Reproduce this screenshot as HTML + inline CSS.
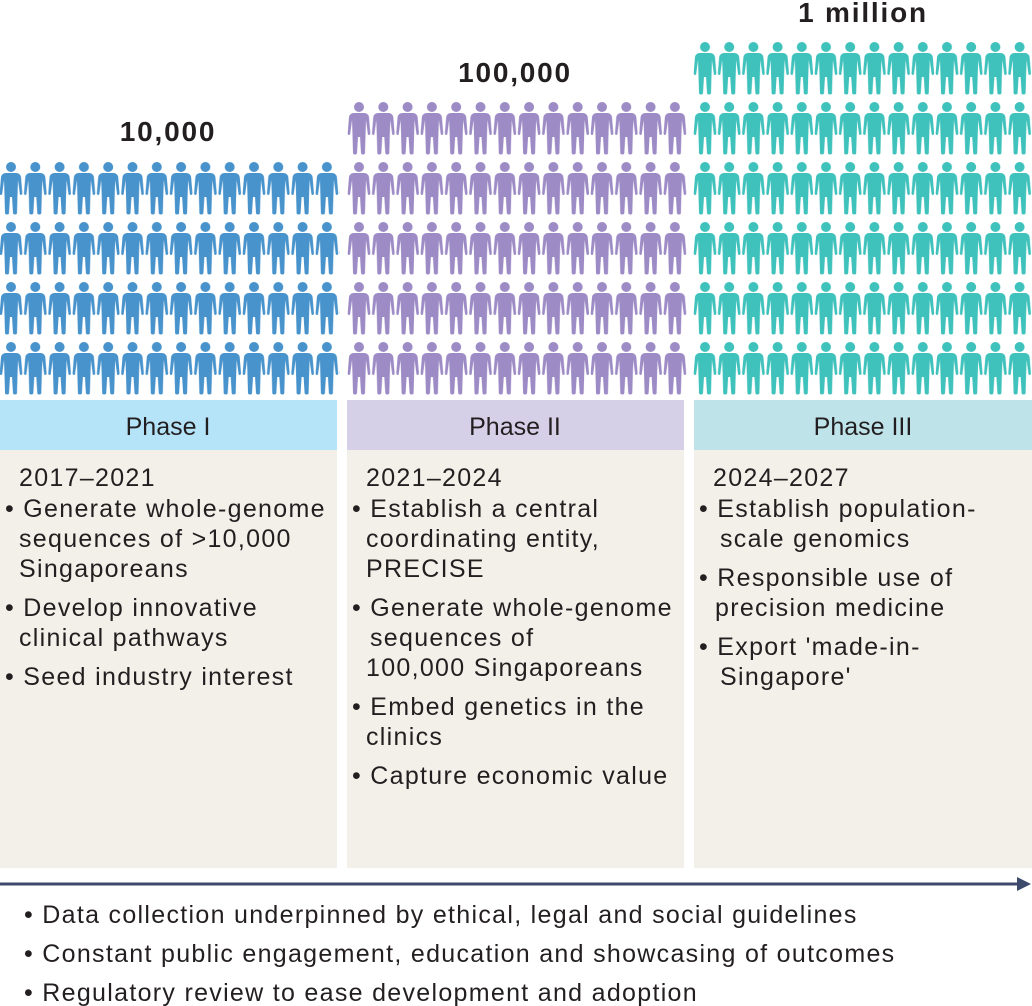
<!DOCTYPE html>
<html><head><meta charset="utf-8"><style>
body{margin:0;background:#fff;}
svg{display:block;font-family:"Liberation Sans",sans-serif;}
</style></head><body>
<svg width="1032" height="1006" viewBox="0 0 1032 1006" xmlns="http://www.w3.org/2000/svg">
<defs>
<g id="p"><circle cx="12" cy="5" r="5"/><path d="M7,11 H17 Q21,11 22,15 L23.3,31 Q23.3,33 22,33 Q20.7,33 20.7,31 L19,18 L18.5,33 L18,51 Q18,52.5 16,52.5 Q14,52.5 14,51 L13,35 H11 L10,51 Q10,52.5 8,52.5 Q6,52.5 6,51 L5.5,33 L5,18 L3.3,31 Q3.3,33 2,33 Q0.7,33 0.7,31 L2,15 Q3,11 7,11 Z"/></g>
<pattern id="pb" patternUnits="userSpaceOnUse" x="-1" y="162" width="24.3" height="60"><use href="#p" fill="#4893cc"/></pattern>
<pattern id="pp" patternUnits="userSpaceOnUse" x="347" y="102" width="24.3" height="60"><use href="#p" fill="#9d8bc6"/></pattern>
<pattern id="pt" patternUnits="userSpaceOnUse" x="693" y="42" width="24.2" height="60"><use href="#p" fill="#40c2bc"/></pattern>
</defs>
<rect x="0" y="160" width="340" height="236" fill="url(#pb)"/>
<rect x="347" y="100" width="340" height="296" fill="url(#pp)"/>
<rect x="693" y="40" width="339" height="356" fill="url(#pt)"/>
<g font-weight="bold" font-size="28" fill="#231f20" text-anchor="middle" letter-spacing="1.8">
<text x="168" y="141">10,000</text>
<text x="515" y="82">100,000</text>
<text x="863" y="22">1 million</text>
</g>
<rect x="0" y="400" width="337" height="50" fill="#b5e3f8"/>
<rect x="347" y="400" width="337" height="50" fill="#d5d0e8"/>
<rect x="694" y="400" width="338" height="50" fill="#bee4ea"/>
<rect x="0" y="450" width="337" height="418" fill="#f3f0ea"/>
<rect x="347" y="450" width="337" height="418" fill="#f3f0ea"/>
<rect x="694" y="450" width="338" height="418" fill="#f3f0ea"/>
<g font-size="25" fill="#231f20" text-anchor="middle">
<text x="168" y="435">Phase I</text>
<text x="515" y="435">Phase II</text>
<text x="863" y="435">Phase III</text>
</g>
<g font-size="25" fill="#231f20" letter-spacing="1.3">
<text x="19" y="486">2017–2021</text>
<text x="5" y="517">• Generate whole-genome</text>
<text x="19" y="547">sequences of &gt;10,000</text>
<text x="19" y="577">Singaporeans</text>
<text x="5" y="616">• Develop innovative</text>
<text x="19" y="646">clinical pathways</text>
<text x="5" y="685">• Seed industry interest</text>

<text x="366" y="486">2021–2024</text>
<text x="352" y="517">• Establish a central</text>
<text x="366" y="547">coordinating entity,</text>
<text x="366" y="577">PRECISE</text>
<text x="352" y="616">• Generate whole-genome</text>
<text x="370" y="646">sequences of</text>
<text x="366" y="676">100,000 Singaporeans</text>
<text x="352" y="715">• Embed genetics in the</text>
<text x="366" y="745">clinics</text>
<text x="352" y="784">• Capture economic value</text>

<text x="713" y="486">2024–2027</text>
<text x="699" y="517">• Establish population-</text>
<text x="720" y="547">scale genomics</text>
<text x="699" y="586">• Responsible use of</text>
<text x="715" y="616">precision medicine</text>
<text x="699" y="655">• Export 'made-in-</text>
<text x="720" y="685">Singapore'</text>

<text x="24" y="923">•  Data collection underpinned by ethical, legal and social guidelines</text>
<text x="24" y="962">• Constant public engagement, education and showcasing of outcomes</text>
<text x="24" y="1001">• Regulatory review to ease development and adoption</text>
</g>
<line x1="0" y1="884" x2="1020" y2="884" stroke="#3d4a6b" stroke-width="3"/>
<path d="M1017,877 L1031,884 L1017,891 Z" fill="#3d4a6b"/>
</svg>
</body></html>
